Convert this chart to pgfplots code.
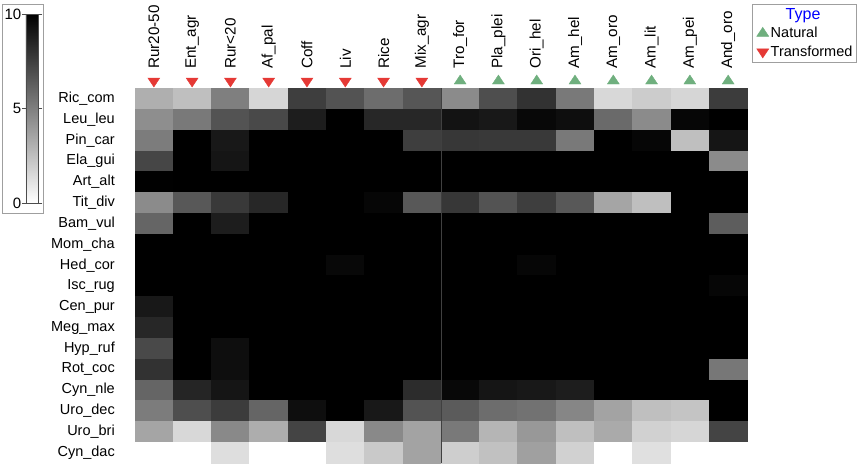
\documentclass[border=0pt]{standalone}
\usepackage{fontspec}
\setmainfont{Liberation Sans}
\usepackage{pgfplots}
\pgfplotsset{compat=1.18}
\definecolor{natgreen}{HTML}{6FAF7E}
\definecolor{trred}{HTML}{E53935}
\newcommand{\lbl}{\fontsize{14.5}{16}\selectfont}
\newcommand{\clbl}{\fontsize{15.2}{17}\selectfont}
\begin{document}
\begin{tikzpicture}
\path[use as bounding box] (0,0) rectangle (865pt,469pt);
% frame round the colour scale
\draw[gray!75] (1.7pt,256pt) rectangle (42.7pt,465pt);
\begin{axis}[
  at={(134.7pt,6pt)}, anchor=south west,
  scale only axis, width=612.6pt, height=374.7pt,
  xmin=-0.5, xmax=15.5, ymin=-0.5, ymax=17.5,
  y dir=reverse,
  clip=false,
  axis line style={draw=none},
  major tick length=0pt,
  xtick={0,...,15}, ytick={0,...,17},
  xticklabels={Rur20-50,Ent\_agr,Rur<20,Af\_pal,Coff,Liv,Rice,Mix\_agr,
    Tro\_for,Pla\_plei,Ori\_hel,Am\_hel,Am\_oro,Am\_lit,Am\_pei,And\_oro},
  yticklabels={Ric\_com,Leu\_leu,Pin\_car,Ela\_gui,Art\_alt,Tit\_div,Bam\_vul,
    Mom\_cha,Hed\_cor,Isc\_rug,Cen\_pur,Meg\_max,Hyp\_ruf,Rot\_coc,Cyn\_nle,
    Uro\_dec,Uro\_bri,Cyn\_dac},
  xticklabel pos=right,
  xticklabel style={rotate=90, anchor=west, inner sep=0pt, font=\clbl},
  xticklabel shift=19.5pt,
  yticklabel style={anchor=east, inner sep=0pt, font=\lbl},
  yticklabel shift=19.7pt,
  colormap={wb}{gray(0cm)=(1); gray(1cm)=(0)},
  point meta min=0, point meta max=10,
  colorbar left,
  colorbar style={
    at={(parent axis.south west)}, anchor=south west,
    xshift=-100.2pt, yshift=260pt,
    scale only axis, width=12.5pt, height=189pt,
    ytick={0,5,10}, yticklabel pos=left,
    axis line style={draw=gray!60!black},
    major tick length=4pt, tick align=outside,
    tick style={gray!60!black},
    yticklabel style={font=\fontsize{15}{17}\selectfont, inner sep=0.5pt},
    /pgf/number format/assume math mode=true,
  },
  legend style={at={(1.0077,1.225)}, anchor=north west, draw=gray!75,
    font=\fontsize{14.5}{16}\selectfont, inner sep=2pt, row sep=2.6pt,
    cells={anchor=west}},
]
\addplot[matrix plot*, mesh/cols=16, point meta=explicit, forget plot] coordinates {
(0,0)[3.1] (1,0)[2.5] (2,0)[5.0] (3,0)[1.6] (4,0)[7.5] (5,0)[6.7] (6,0)[5.7] (7,0)[6.6] (8,0)[4.5] (9,0)[6.9] (10,0)[8.0] (11,0)[5.2] (12,0)[1.5] (13,0)[2.0] (14,0)[1.6] (15,0)[7.6]
(0,1)[4.4] (1,1)[5.2] (2,1)[6.7] (3,1)[7.1] (4,1)[8.8] (5,1)[10] (6,1)[8.4] (7,1)[8.4] (8,1)[9.2] (9,1)[9.0] (10,1)[9.6] (11,1)[9.4] (12,1)[5.8] (13,1)[4.5] (14,1)[9.7] (15,1)[10]
(0,2)[5.1] (1,2)[10] (2,2)[9.0] (3,2)[10] (4,2)[10] (5,2)[10] (6,2)[10] (7,2)[7.5] (8,2)[7.8] (9,2)[7.7] (10,2)[7.7] (11,2)[5.2] (12,2)[10] (13,2)[9.7] (14,2)[2.5] (15,2)[9.1]
(0,3)[7.2] (1,3)[10] (2,3)[9.1] (3,3)[10] (4,3)[10] (5,3)[10] (6,3)[10] (7,3)[10] (8,3)[10] (9,3)[10] (10,3)[10] (11,3)[10] (12,3)[10] (13,3)[10] (14,3)[10] (15,3)[4.5]
(0,4)[9.9] (1,4)[10] (2,4)[10] (3,4)[10] (4,4)[10] (5,4)[10] (6,4)[10] (7,4)[10] (8,4)[10] (9,4)[10] (10,4)[10] (11,4)[10] (12,4)[10] (13,4)[10] (14,4)[10] (15,4)[10]
(0,5)[4.5] (1,5)[6.5] (2,5)[7.7] (3,5)[8.4] (4,5)[10] (5,5)[10] (6,5)[9.7] (7,5)[6.5] (8,5)[7.8] (9,5)[6.7] (10,5)[7.5] (11,5)[6.5] (12,5)[3.5] (13,5)[2.5] (14,5)[10] (15,5)[10]
(0,6)[6.0] (1,6)[10] (2,6)[8.8] (3,6)[10] (4,6)[10] (5,6)[10] (6,6)[10] (7,6)[10] (8,6)[10] (9,6)[10] (10,6)[10] (11,6)[10] (12,6)[10] (13,6)[10] (14,6)[10] (15,6)[6.3]
(0,7)[10] (1,7)[10] (2,7)[10] (3,7)[10] (4,7)[10] (5,7)[10] (6,7)[10] (7,7)[10] (8,7)[10] (9,7)[10] (10,7)[10] (11,7)[10] (12,7)[10] (13,7)[10] (14,7)[10] (15,7)[10]
(0,8)[10] (1,8)[10] (2,8)[10] (3,8)[10] (4,8)[10] (5,8)[9.6] (6,8)[10] (7,8)[10] (8,8)[10] (9,8)[10] (10,8)[9.7] (11,8)[10] (12,8)[10] (13,8)[10] (14,8)[10] (15,8)[10]
(0,9)[10] (1,9)[10] (2,9)[10] (3,9)[10] (4,9)[10] (5,9)[10] (6,9)[10] (7,9)[10] (8,9)[10] (9,9)[10] (10,9)[10] (11,9)[10] (12,9)[10] (13,9)[10] (14,9)[10] (15,9)[9.7]
(0,10)[9.0] (1,10)[10] (2,10)[10] (3,10)[10] (4,10)[10] (5,10)[10] (6,10)[10] (7,10)[10] (8,10)[10] (9,10)[10] (10,10)[10] (11,10)[10] (12,10)[10] (13,10)[10] (14,10)[10] (15,10)[10]
(0,11)[8.4] (1,11)[10] (2,11)[10] (3,11)[10] (4,11)[10] (5,11)[10] (6,11)[10] (7,11)[10] (8,11)[10] (9,11)[10] (10,11)[10] (11,11)[10] (12,11)[10] (13,11)[10] (14,11)[10] (15,11)[10]
(0,12)[7.1] (1,12)[10] (2,12)[9.4] (3,12)[10] (4,12)[10] (5,12)[10] (6,12)[10] (7,12)[10] (8,12)[10] (9,12)[10] (10,12)[10] (11,12)[10] (12,12)[10] (13,12)[10] (14,12)[10] (15,12)[10]
(0,13)[8.0] (1,13)[10] (2,13)[9.4] (3,13)[10] (4,13)[10] (5,13)[10] (6,13)[10] (7,13)[10] (8,13)[10] (9,13)[10] (10,13)[10] (11,13)[10] (12,13)[10] (13,13)[10] (14,13)[10] (15,13)[5.3]
(0,14)[6.0] (1,14)[8.5] (2,14)[9.1] (3,14)[10] (4,14)[10] (5,14)[10] (6,14)[10] (7,14)[8.2] (8,14)[9.6] (9,14)[9.1] (10,14)[9.0] (11,14)[8.8] (12,14)[10] (13,14)[10] (14,14)[10] (15,14)[10]
(0,15)[5.1] (1,15)[6.9] (2,15)[7.6] (3,15)[6.0] (4,15)[9.4] (5,15)[10] (6,15)[9.0] (7,15)[6.7] (8,15)[6.4] (9,15)[5.7] (10,15)[5.5] (11,15)[4.7] (12,15)[3.6] (13,15)[2.5] (14,15)[2.3] (15,15)[10]
(0,16)[3.5] (1,16)[1.5] (2,16)[4.6] (3,16)[3.2] (4,16)[7.3] (5,16)[1.5] (6,16)[4.6] (7,16)[3.6] (8,16)[5.2] (9,16)[2.9] (10,16)[4.0] (11,16)[2.5] (12,16)[3.3] (13,16)[1.8] (14,16)[1.6] (15,16)[7.3]
(0,17)[0] (1,17)[0] (2,17)[1.3] (3,17)[0] (4,17)[0] (5,17)[1.3] (6,17)[2.1] (7,17)[3.6] (8,17)[1.9] (9,17)[2.4] (10,17)[3.7] (11,17)[1.8] (12,17)[0] (13,17)[1.2] (14,17)[0] (15,17)[0]
};
% separator between transformed and natural columns
\draw[gray!50!black, line width=0.6pt] (axis cs:7.5,-0.5) -- (axis cs:7.5,17.5);
\addlegendimage{empty legend}
\addlegendentry{\hspace*{15pt}\textcolor{blue}{\fontsize{16}{18}\selectfont Type}}
\addplot[only marks, mark=triangle*, color=natgreen, mark size=6pt,
  mark options={xscale=1.15}] coordinates {
  (8,-0.85) (9,-0.85) (10,-0.85) (11,-0.85) (12,-0.85) (13,-0.85) (14,-0.85) (15,-0.85)};
\addlegendentry{Natural}
\addplot[only marks, mark=triangle*, color=trred, mark size=6pt,
  mark options={rotate=180, xscale=1.15}] coordinates {
  (0,-0.85) (1,-0.85) (2,-0.85) (3,-0.85) (4,-0.85) (5,-0.85) (6,-0.85) (7,-0.85)};
\addlegendentry{Transformed}
\end{axis}
\end{tikzpicture}
\end{document}
